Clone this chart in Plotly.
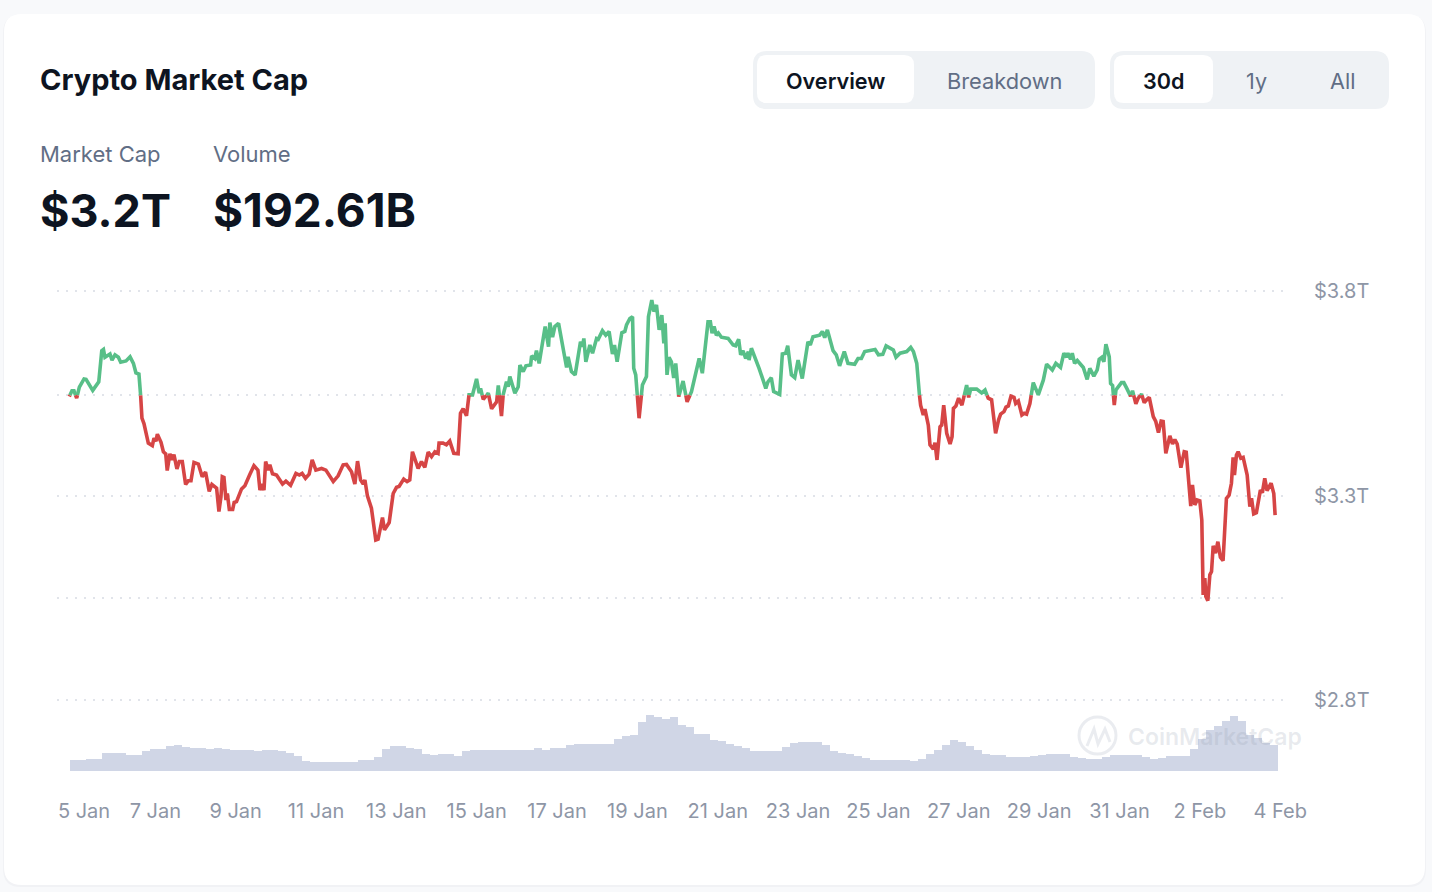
import plotly.graph_objects as go

W, H = 1432, 892

# hours since 5 Jan 00:00, market cap in $T
hours = [
    -3.4, -1.8, -0.6, 1.0, 2.6, 5.4, 6.6, 10.6, 13.0, 14.2, 16.0, 17.0, 17.9, 20.9, 22.1, 23.9, 25.9, 27.3, 30.5, 32.9,
    34.9, 36.4, 38.2, 39.2, 40.0, 41.2, 43.8, 46.2, 47.2, 48.4, 49.2, 51.4, 52.8, 54.2, 55.1, 56.7, 57.9, 59.1, 60.9, 62.3,
    64.1, 66.1, 67.7, 69.3, 71.1, 73.7, 76.0, 78.0, 80.2, 81.8, 84.6, 86.0, 87.2, 88.0, 89.0, 90.2, 91.0, 92.2, 94.2, 95.1,
    96.5, 99.5, 101.5, 104.5, 106.9, 109.3, 110.5, 111.7, 112.9, 113.9, 115.4, 116.4, 118.0, 120.4, 124.0, 126.0, 128.8, 132.0, 134.0, 135.7,
    137.7, 139.9, 141.7, 143.9, 147.3, 149.9, 154.3, 157.2, 160.2, 162.2, 165.2, 167.2, 168.8, 170.6, 172.2, 173.2, 174.7, 177.1, 179.7, 181.1,
    183.7, 184.9, 187.7, 190.1, 192.1, 193.6, 196.4, 198.4, 200.0, 201.6, 205.0, 207.0, 209.0, 211.0, 213.0, 215.0, 216.9, 217.5, 219.9, 221.9,
    223.9, 226.3, 228.9, 230.3, 231.9, 233.9, 235.4,
    237.5, 239.9, 241.5, 242.3, 243.9, 246.9, 248.9, 251.9, 252.9, 254.8, 255.8, 257.8, 258.8, 259.8, 262.8, 264.8, 265.8, 267.8, 269.4, 272.2,
    272.8, 274.7, 275.7, 277.3, 279.3, 280.9, 282.9, 283.7, 285.3, 286.7, 288.9, 291.3, 293.7, 294.6, 296.6, 298.8, 302.0, 303.2, 304.0, 305.2,
    307.6, 309.2, 311.6, 312.6, 315.1, 317.1, 319.1, 321.1, 322.3, 323.9, 326.7, 328.5, 329.5, 331.5, 333.1, 333.8, 335.0, 337.0, 339.0, 341.4,
    342.6, 344.6, 345.8, 347.4, 349.0, 350.6, 351.8, 352.6, 353.7, 354.9, 356.3, 357.7, 358.9, 360.7, 363.3, 365.7, 368.3, 372.9, 374.8, 378.2,
    379.6, 380.6, 381.8, 383.2, 384.4, 386.2, 390.2, 393.2, 394.7, 396.5, 397.7, 399.1, 400.7, 402.3, 402.7, 404.1, 406.1, 408.7, 411.1, 412.7,
    414.0, 416.0, 417.4, 421.0, 422.6, 424.6, 425.8, 428.0, 430.0, 432.0, 434.5, 437.9, 439.3, 440.9, 444.9, 446.5, 447.9, 449.5, 452.9, 454.8,
    456.8, 459.6, 461.8, 465.8, 467.8, 469.8, 471.8, 474.3,
    475.0, 478.0, 480.0, 482.6, 484.6, 486.9, 488.9, 490.5, 492.9, 496.9, 499.3, 500.9, 502.9, 504.5, 505.2, 506.8, 507.8, 509.8, 510.8, 512.8,
    513.8, 515.0, 516.8, 517.8, 519.0, 520.8, 522.8, 524.0, 524.8, 526.3, 527.9, 529.9, 532.7, 533.9, 535.1, 538.7, 541.7, 543.7, 545.6, 547.6,
    548.6, 550.0, 551.8, 553.0, 555.0, 556.2, 557.6, 559.2, 561.0, 562.0, 563.6, 565.7, 567.1, 568.5, 570.5, 572.5, 575.5, 578.5, 580.5, 583.9,
    586.0, 588.8, 590.8, 592.4, 593.2, 594.8, 595.8, 597.2, 598.8, 602.4, 604.7, 606.3, 608.7, 610.7, 611.9, 613.5, 614.7, 615.9, 617.9, 618.7,
    619.9, 620.9, 621.9, 625.2, 626.6, 628.6, 630.6, 631.8, 633.8, 635.2, 637.2, 638.8, 640.2, 641.8, 644.2, 645.7, 647.3, 648.9, 650.1, 651.7,
    654.1, 655.7, 657.1, 658.5, 660.7, 662.7, 663.9, 666.6, 667.6, 669.0, 670.4, 672.0, 673.2, 674.0, 675.0, 675.6, 676.8, 678.0, 679.0, 680.0,
    681.4, 682.8, 684.3, 685.9, 687.9, 689.5, 690.9, 691.9, 692.7, 693.9, 694.9, 696.5, 697.9, 700.3, 701.9, 702.9, 704.2, 705.8, 708.2, 709.4,
    710.8, 712.2, 714.6, 716.2, 717.0,
]
market_cap = [
    3.542, 3.556, 3.556, 3.538, 3.565, 3.585, 3.584, 3.557, 3.573, 3.578, 3.654, 3.657, 3.638, 3.646, 3.631, 3.644, 3.638, 3.626, 3.629, 3.639,
    3.623, 3.600, 3.597, 3.546, 3.489, 3.476, 3.428, 3.422, 3.440, 3.433, 3.450, 3.430, 3.407, 3.402, 3.361, 3.402, 3.387, 3.400, 3.365, 3.383,
    3.383, 3.327, 3.336, 3.336, 3.381, 3.377, 3.346, 3.357, 3.310, 3.327, 3.318, 3.261, 3.297, 3.346, 3.344, 3.289, 3.305, 3.266, 3.266, 3.283,
    3.285, 3.316, 3.324, 3.352, 3.373, 3.362, 3.313, 3.328, 3.313, 3.383, 3.362, 3.375, 3.353, 3.350, 3.328, 3.335, 3.325, 3.354, 3.350, 3.354,
    3.342, 3.352, 3.387, 3.362, 3.366, 3.362, 3.334, 3.348, 3.375, 3.376, 3.358, 3.328, 3.384, 3.338, 3.328, 3.338, 3.299, 3.269, 3.191, 3.193,
    3.246, 3.216, 3.234, 3.305, 3.320, 3.322, 3.340, 3.334, 3.338, 3.407, 3.366, 3.383, 3.369, 3.406, 3.395, 3.407, 3.403, 3.428, 3.428, 3.424,
    3.433, 3.403, 3.402, 3.501, 3.512, 3.495, 3.546,
    3.546, 3.585, 3.550, 3.562, 3.535, 3.550, 3.512, 3.529, 3.569, 3.494, 3.546, 3.578, 3.566, 3.591, 3.550, 3.566, 3.619, 3.603, 3.617, 3.619,
    3.641, 3.635, 3.654, 3.623, 3.672, 3.713, 3.664, 3.723, 3.687, 3.713, 3.721, 3.668, 3.613, 3.639, 3.603, 3.595, 3.676, 3.664, 3.684, 3.627,
    3.668, 3.648, 3.684, 3.682, 3.703, 3.692, 3.701, 3.646, 3.668, 3.627, 3.698, 3.701, 3.717, 3.733, 3.737, 3.611, 3.595, 3.489, 3.570, 3.591,
    3.737, 3.778, 3.750, 3.766, 3.705, 3.741, 3.672, 3.721, 3.595, 3.638, 3.627, 3.587, 3.623, 3.542, 3.580, 3.529, 3.554, 3.635, 3.599, 3.725,
    3.725, 3.697, 3.713, 3.692, 3.697, 3.687, 3.684, 3.668, 3.666, 3.682, 3.644, 3.654, 3.635, 3.652, 3.631, 3.660, 3.641, 3.611, 3.582, 3.562,
    3.578, 3.588, 3.554, 3.547, 3.646, 3.648, 3.666, 3.595, 3.588, 3.631, 3.586, 3.676, 3.668, 3.688, 3.692, 3.701, 3.686, 3.705, 3.654, 3.644,
    3.617, 3.652, 3.623, 3.621, 3.635, 3.635, 3.652, 3.654,
    3.654, 3.657, 3.644, 3.645, 3.666, 3.660, 3.656, 3.638, 3.648, 3.652, 3.662, 3.652, 3.623, 3.546, 3.521, 3.497, 3.511, 3.472, 3.424, 3.413,
    3.429, 3.387, 3.468, 3.472, 3.521, 3.452, 3.426, 3.444, 3.513, 3.519, 3.538, 3.521, 3.570, 3.540, 3.560, 3.560, 3.551, 3.558, 3.538, 3.534,
    3.493, 3.452, 3.485, 3.499, 3.505, 3.516, 3.519, 3.543, 3.540, 3.525, 3.531, 3.497, 3.501, 3.499, 3.525, 3.576, 3.546, 3.582, 3.621, 3.607,
    3.623, 3.613, 3.648, 3.638, 3.648, 3.633, 3.648, 3.623, 3.630, 3.613, 3.584, 3.611, 3.592, 3.607, 3.633, 3.638, 3.627, 3.670, 3.639, 3.574,
    3.569, 3.521, 3.558, 3.576, 3.576, 3.560, 3.543, 3.556, 3.524, 3.538, 3.548, 3.527, 3.534, 3.540, 3.493, 3.481, 3.454, 3.482, 3.481, 3.403,
    3.446, 3.426, 3.437, 3.426, 3.368, 3.407, 3.406, 3.274, 3.326, 3.277, 3.289, 3.287, 3.240, 3.057, 3.098, 3.053, 3.043, 3.106, 3.114, 3.177,
    3.159, 3.187, 3.149, 3.141, 3.293, 3.301, 3.330, 3.393, 3.350, 3.399, 3.407, 3.391, 3.393, 3.350, 3.273, 3.293, 3.255, 3.258, 3.313, 3.307,
    3.342, 3.312, 3.330, 3.305, 3.252,
]

# volume in $B, one bar every 4.78 hours
volume = [
    76, 76, 88, 88, 128, 128, 128, 116, 116, 140, 155, 155, 178, 182, 171, 166, 166, 157, 166, 160,
    152, 152, 152, 143, 152, 150, 140, 128, 110, 68, 62, 62, 62, 62, 62, 62, 76, 76, 100, 157,
    178, 178, 164, 157, 121, 114, 121, 123, 110, 143, 152, 152, 152, 152, 152, 152, 152, 152, 164, 152,
    164, 164, 185, 190, 190, 190, 190, 193, 228, 250, 257, 349, 399, 385, 371, 385, 328, 314, 264, 264,
    221, 214, 193, 178, 164, 140, 140, 140, 140, 171, 200, 207, 207, 207, 185, 143, 128, 121, 107, 93,
    78, 76, 76, 76, 76, 68, 86, 121, 150, 185, 221, 207, 178, 150, 121, 114, 114, 100, 100, 100,
    107, 114, 121, 121, 121, 103, 93, 88, 88, 100, 112, 112, 112, 112, 100, 82, 93, 105, 105, 105,
    157, 228, 292, 321, 356, 392, 356, 257, 235, 200, 185,
]
volume_hours = [-0.6 + 4.78 * i for i in range(len(volume))]

tick_hours = [5.4, 48, 96, 144, 192, 240, 288, 336, 384, 432, 480, 528, 576, 624, 672, 720]
tick_labels = ["5 Jan", "7 Jan", "9 Jan", "11 Jan", "13 Jan", "15 Jan", "17 Jan", "19 Jan", "21 Jan", "23 Jan",
               "25 Jan", "27 Jan", "29 Jan", "31 Jan", "2 Feb", "4 Feb"]
grid_values = [3.8, 3.545, 3.3, 3.05, 2.8]
grid_labels = ["$3.8T", "", "$3.3T", "", "$2.8T"]
baseline = 3.545

GREEN = "#58bf88"
RED = "#d64545"
FONT = "Inter"


def split_at_baseline(xs, ys, base):
    # green above the baseline, red below, both meet where the line crosses it
    up_x, up_y, down_x, down_y = [], [], [], []
    for i in range(len(xs)):
        if i > 0 and (ys[i - 1] - base) * (ys[i] - base) < 0:
            cross = xs[i - 1] + (base - ys[i - 1]) / (ys[i] - ys[i - 1]) * (xs[i] - xs[i - 1])
            up_x.append(cross)
            up_y.append(base)
            down_x.append(cross)
            down_y.append(base)
            if ys[i] > base:
                down_x.append(None)
                down_y.append(None)
            else:
                up_x.append(None)
                up_y.append(None)
        if ys[i] >= base:
            up_x.append(xs[i])
            up_y.append(ys[i])
        else:
            down_x.append(xs[i])
            down_y.append(ys[i])
    return up_x, up_y, down_x, down_y


def px(x):
    return x / W


def py(y):
    return 1 - y / H


def round_box(x0, y0, x1, y1, r, color, layer="below"):
    path = (
        f"M {px(x0 + r)} {py(y0)} L {px(x1 - r)} {py(y0)} Q {px(x1)} {py(y0)} {px(x1)} {py(y0 + r)} "
        f"L {px(x1)} {py(y1 - r)} Q {px(x1)} {py(y1)} {px(x1 - r)} {py(y1)} "
        f"L {px(x0 + r)} {py(y1)} Q {px(x0)} {py(y1)} {px(x0)} {py(y1 - r)} "
        f"L {px(x0)} {py(y0 + r)} Q {px(x0)} {py(y0)} {px(x0 + r)} {py(y0)} Z"
    )
    return dict(type="path", path=path, xref="paper", yref="paper", fillcolor=color,
                line=dict(width=0), layer=layer)


def label(x, y, text, size, color, weight=400, anchor="left"):
    return dict(x=px(x), y=py(y), xref="paper", yref="paper", text=text, showarrow=False,
                xanchor=anchor, yanchor="middle",
                font=dict(family=FONT, size=size, color=color, weight=weight))


up_x, up_y, down_x, down_y = split_at_baseline(hours, market_cap, baseline)

fig = go.Figure()
fig.add_trace(go.Bar(x=volume_hours, y=volume, width=4.8, yaxis="y2",
                     marker=dict(color="#d0d6e6", line=dict(width=0))))
fig.add_trace(go.Scatter(x=up_x, y=up_y, mode="lines", line=dict(color=GREEN, width=3.6, shape="linear")))
fig.add_trace(go.Scatter(x=down_x, y=down_y, mode="lines", line=dict(color=RED, width=3.6, shape="linear")))

shapes = [
    round_box(3, 15, 1426, 887, 18, "#f1f2f5"),
    round_box(4, 14, 1425, 885, 18, "#ffffff"),
    round_box(753, 51, 1095, 109, 14, "#eff2f5"),
    round_box(757, 55, 914, 103, 10, "#ffffff"),
    round_box(1110, 51, 1389, 109, 14, "#eff2f5"),
    round_box(1114, 55, 1213, 103, 10, "#ffffff"),
    # watermark logo
    dict(type="circle", xref="paper", yref="paper", x0=px(1079), x1=px(1116), y0=py(754), y1=py(717),
         line=dict(color="rgba(150,160,178,0.2)", width=3), layer="above"),
    dict(type="path", xref="paper", yref="paper",
         path=f"M {px(1087)} {py(746)} L {px(1094)} {py(729)} L {px(1098)} {py(744)} L {px(1105)} {py(729)} L {px(1110)} {py(742)}",
         line=dict(color="rgba(150,160,178,0.2)", width=3), layer="above"),
]

annotations = [
    label(38, 79.5, "Crypto Market Cap", 29, "#0d1421", 700),
    label(38, 154, "Market Cap", 22, "#616e85"),
    label(211, 154, "Volume", 22, "#616e85"),
    label(38, 210, "$3.2T", 45, "#0d1421", 700),
    label(211, 210, "$192.61B", 46, "#0d1421", 700),
    label(835.5, 81, "Overview", 21.6, "#0d1421", 600, "center"),
    label(1004.5, 81, "Breakdown", 21.8, "#616e85", 400, "center"),
    label(1163.5, 81, "30d", 21.6, "#0d1421", 600, "center"),
    label(1256.5, 81, "1y", 21.6, "#616e85", 400, "center"),
    label(1342.5, 81, "All", 21.6, "#616e85", 400, "center"),
    label(1126, 737, "CoinMarketCap", 23, "rgba(150,160,178,0.22)", 600),
]

fig.update_layout(
    width=W,
    height=H,
    margin=dict(l=0, r=0, t=0, b=0),
    paper_bgcolor="#f8f9fb",
    plot_bgcolor="rgba(0,0,0,0)",
    showlegend=False,
    shapes=shapes,
    annotations=annotations,
    bargap=0,
    xaxis=dict(
        domain=[px(57), px(1285)],
        range=[-10.75, 722.9],
        tickvals=tick_hours,
        ticktext=tick_labels,
        showgrid=False,
        zeroline=False,
        showline=False,
        ticks="",
        automargin=False,
        ticklabelstandoff=26,
        tickfont=dict(family=FONT, size=20, color="#8e96a6"),
        anchor="y",
    ),
    yaxis=dict(
        domain=[py(771), py(280)],
        range=[2.6264, 3.8269],
        tickvals=grid_values,
        ticktext=grid_labels,
        side="right",
        showgrid=True,
        gridcolor="#e1e4ea",
        gridwidth=1.5,
        griddash="2px,7px",
        zeroline=False,
        showline=False,
        ticks="",
        automargin=False,
        ticklabelstandoff=28,
        tickfont=dict(family=FONT, size=20, color="#8e96a6"),
    ),
    yaxis2=dict(domain=[py(771), py(700)], range=[0, 506], visible=False, anchor="x", fixedrange=True),
)

fig.write_html("out.html", config=dict(displayModeBar=False),
               post_script="document.body.style.margin='0';")
